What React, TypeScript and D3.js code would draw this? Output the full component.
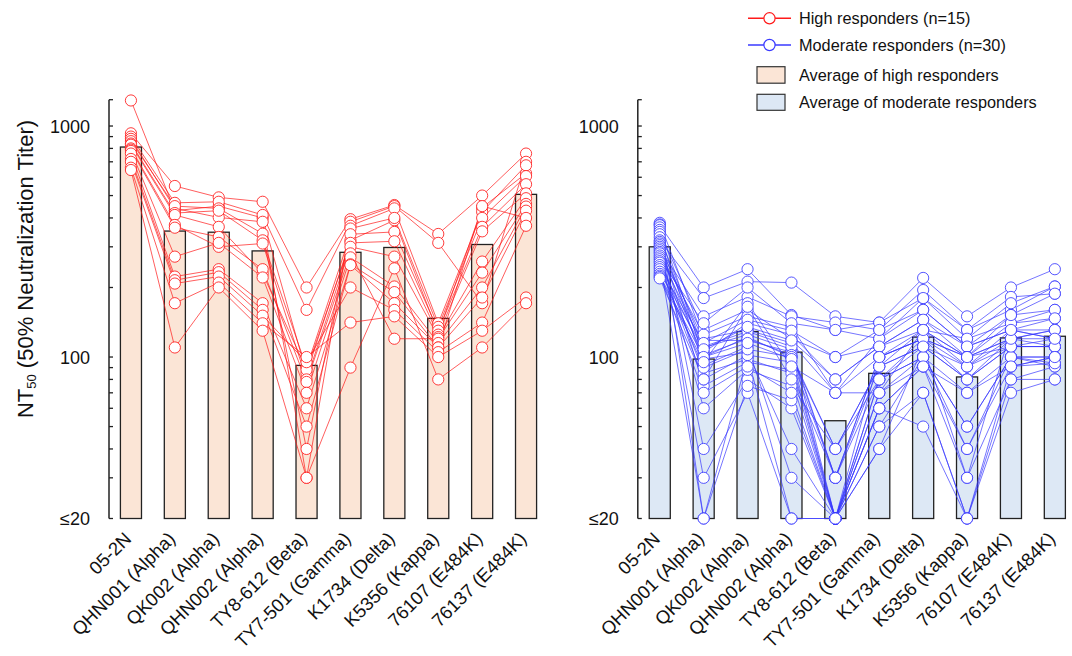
import React from "react";
import * as d3 from "d3";

const categories = [
  "05-2N",
  "QHN001 (Alpha)",
  "QK002 (Alpha)",
  "QHN002 (Alpha)",
  "TY8-612 (Beta)",
  "TY7-501 (Gamma)",
  "K1734 (Delta)",
  "K5356 (Kappa)",
  "76107 (E484K)",
  "76137 (E484K)",
];

const highAvg = [811, 351, 347, 288, 92, 284, 298, 147, 307, 506];
const modAvg = [300, 98, 129, 105, 53, 85, 122, 82, 121, 123];

const highRows = [
  [1290, 430, 450, 400, 85, 320, 391, 127, 443, 624],
  [930, 550, 491, 470, 200, 395, 455, 341, 500, 760],
  [900, 465, 470, 412, 160, 385, 450, 312, 171, 700],
  [880, 440, 402, 385, 30, 370, 440, 140, 425, 676],
  [860, 450, 440, 342, 40, 360, 400, 135, 400, 607],
  [840, 420, 430, 320, 90, 340, 348, 130, 366, 560],
  [830, 412, 366, 230, 88, 312, 317, 125, 350, 511],
  [800, 373, 300, 310, 80, 300, 272, 122, 259, 487],
  [790, 363, 331, 240, 78, 281, 120, 120, 232, 460],
  [780, 272, 312, 221, 70, 270, 202, 115, 200, 448],
  [760, 223, 240, 171, 60, 252, 191, 110, 181, 430],
  [720, 215, 233, 160, 50, 250, 171, 110, 450, 400],
  [700, 208, 223, 151, 95, 200, 160, 105, 141, 370],
  [660, 171, 210, 140, 100, 141, 150, 100, 130, 181],
  [645, 110, 200, 130, 30, 90, 242, 80, 110, 171],
];

const modRows = [
  [381, 120, 131, 115, 70, 100, 120, 100, 111, 120],
  [375, 20, 100, 20, 20, 40, 70, 20, 91, 94],
  [372, 200, 240, 152, 131, 120, 180, 131, 160, 202],
  [364, 100, 122, 100, 40, 91, 111, 80, 120, 111],
  [355, 40, 80, 60, 20, 60, 91, 30, 80, 91],
  [348, 131, 160, 120, 100, 111, 145, 111, 131, 147],
  [340, 92, 111, 30, 20, 50, 100, 40, 100, 100],
  [330, 110, 125, 108, 30, 100, 131, 100, 120, 131],
  [320, 180, 212, 210, 150, 141, 220, 150, 200, 240],
  [315, 75, 95, 88, 20, 80, 100, 50, 100, 100],
  [310, 105, 140, 125, 80, 111, 131, 120, 140, 160],
  [305, 30, 70, 20, 20, 60, 50, 20, 70, 80],
  [300, 118, 118, 105, 30, 91, 111, 91, 111, 111],
  [295, 150, 182, 150, 141, 131, 195, 131, 182, 188],
  [290, 98, 105, 40, 20, 70, 91, 70, 91, 100],
  [285, 60, 88, 75, 40, 80, 100, 50, 100, 91],
  [281, 125, 150, 135, 70, 120, 160, 111, 131, 131],
  [275, 111, 129, 111, 20, 100, 120, 100, 120, 120],
  [270, 85, 98, 85, 30, 80, 111, 80, 111, 111],
  [265, 140, 200, 140, 131, 141, 180, 120, 171, 202],
  [260, 20, 75, 65, 20, 50, 70, 20, 80, 80],
  [256, 102, 120, 102, 40, 91, 131, 91, 131, 120],
  [250, 80, 102, 95, 20, 70, 100, 70, 100, 94],
  [245, 115, 145, 130, 100, 131, 160, 111, 152, 160],
  [240, 90, 108, 100, 20, 80, 120, 80, 111, 111],
  [234, 108, 135, 118, 80, 111, 145, 100, 140, 147],
  [229, 70, 91, 70, 20, 60, 91, 40, 91, 100],
  [225, 100, 115, 98, 30, 100, 120, 91, 120, 131],
  [222, 95, 171, 91, 70, 70, 131, 100, 152, 188],
  [219, 80, 165, 80, 20, 40, 111, 30, 131, 120],
];

const yTicksMajor = [20, 100, 1000];
const yTickLabels = ["≤20", "100", "1000"];
const yTicksMinor = [30, 40, 50, 60, 70, 80, 90, 200, 300, 400, 500, 600, 700, 800, 900, 1300];

const legendItems = [
  "High responders (n=15)",
  "Moderate responders (n=30)",
  "Average of high responders",
  "Average of moderate responders",
];

const FONT = "'Liberation Sans', Arial, Helvetica, sans-serif";
const RED = "#ff1a1a";
const BLUE = "#3a3aff";
const PEACH = "#fbe5d6";
const LBLUE = "#dde8f5";

function Panel({ x0, rows, avgs, color, fill, showTitle }) {
  const x = d3
    .scaleBand()
    .domain(categories)
    .range([x0, x0 + 439])
    .paddingInner(0.52)
    .paddingOuter(0.26);
  const y = d3.scaleLog().domain([20, 1300]).range([518.5, 99.7]);
  const cx = (c) => x(c) + x.bandwidth() / 2;
  const line = d3
    .line()
    .x((d, i) => cx(categories[i]))
    .y((d) => y(d));
  return (
    <g>
      {avgs.map((v, i) => (
        <rect
          key={"b" + i}
          x={x(categories[i])}
          y={y(v)}
          width={x.bandwidth()}
          height={y(20) - y(v)}
          fill={fill}
          stroke="#222"
          strokeWidth={1.3}
        />
      ))}
      {rows.map((r, k) => (
        <path key={"l" + k} d={line(r)} fill="none" stroke={color} strokeOpacity={0.7} strokeWidth={1} />
      ))}
      {rows.map((r, k) =>
        r.map((v, i) => (
          <circle
            key={"c" + k + "-" + i}
            cx={cx(categories[i])}
            cy={y(v)}
            r={5.6}
            fill="#fff"
            stroke={color}
            strokeOpacity={0.85}
            strokeWidth={1}
          />
        ))
      )}
      <line x1={x0} x2={x0} y1={y(1300)} y2={y(20)} stroke="#222" strokeWidth={1.5} />
      {yTicksMajor.concat(yTicksMinor).map((t) => (
        <line key={"t" + t} x1={x0} x2={x0 + 4} y1={y(t)} y2={y(t)} stroke="#222" strokeWidth={1.3} />
      ))}
      {yTicksMajor.map((t, i) => (
        <text
          key={"tl" + t}
          x={x0 - 19}
          y={y(t)}
          dy="0.36em"
          textAnchor="end"
          fontSize={18}
          fontFamily={FONT}
          fill="#111"
        >
          {yTickLabels[i]}
        </text>
      ))}
      {categories.map((c) => (
        <text
          key={"x" + c}
          transform={`translate(${cx(c) + 1.5},${540}) rotate(-45)`}
          textAnchor="end"
          fontSize={18.5}
          fontFamily={FONT}
          fill="#111"
        >
          {c}
        </text>
      ))}
      {showTitle && (
        <text
          transform={`translate(33,${269}) rotate(-90)`}
          textAnchor="middle"
          fontSize={22}
          fontFamily={FONT}
          fill="#111"
        >
          NT
          <tspan fontSize={13} dy={3}>50</tspan>
          <tspan dy={-3}> (50% Neutralization Titer)</tspan>
        </text>
      )}
    </g>
  );
}

export default function App() {
  return (
    <svg
      width={1072}
      height={656}
      style={{ position: "absolute", left: 0, top: 0, display: "block", background: "#fff" }}
    >
      <Panel x0={109} rows={highRows} avgs={highAvg} color={RED} fill={PEACH} showTitle={true} />
      <Panel x0={637.8} rows={modRows} avgs={modAvg} color={BLUE} fill={LBLUE} showTitle={false} />
      <g fontFamily={FONT} fontSize={16.3} fill="#111">
        <line x1={748} x2={791} y1={18.3} y2={18.3} stroke={RED} strokeWidth={1.5} />
        <circle cx={769.5} cy={18.3} r={5.6} fill="#fff" stroke={RED} strokeWidth={1.2} />
        <text x={799} y={18.3} dy="0.36em">{legendItems[0]}</text>
        <line x1={748} x2={791} y1={45} y2={45} stroke={BLUE} strokeWidth={1.5} />
        <circle cx={769.5} cy={45} r={5.6} fill="#fff" stroke={BLUE} strokeWidth={1.2} />
        <text x={799} y={45} dy="0.36em">{legendItems[1]}</text>
        <rect x={757} y={66.7} width={28} height={16.5} fill={PEACH} stroke="#333" strokeWidth={1.2} />
        <text x={799} y={75} dy="0.36em">{legendItems[2]}</text>
        <rect x={757} y={94.3} width={28} height={16} fill={LBLUE} stroke="#333" strokeWidth={1.2} />
        <text x={799} y={102} dy="0.36em">{legendItems[3]}</text>
      </g>
    </svg>
  );
}
